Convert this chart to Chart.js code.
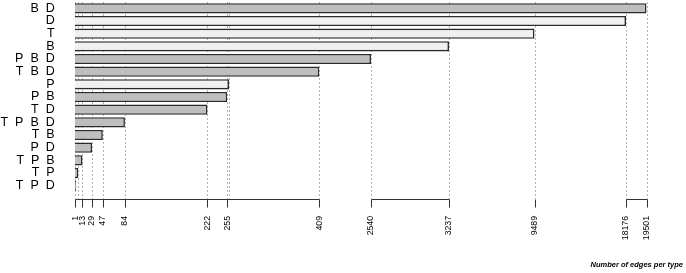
<!DOCTYPE html>
<html>
<head>
<meta charset="utf-8">
<script src="https://cdn.jsdelivr.net/npm/chart.js@4"></script>
<style>
  body { margin: 0; background: #fff; }
  canvas { display: block; }
</style>
</head>
<body>
<canvas id="edgeChart" width="686" height="273"></canvas>
<script>
// edge types, top to bottom
const categories = ['B  D', 'D', 'T', 'B', 'P  B  D', 'T  B  D', 'P', 'P  B', 'T  D',
  'T  P  B  D', 'T  B', 'P  D', 'T  P  B', 'T  P', 'T  P  D'];
const edgeCounts = [19501, 18176, 9489, 3237, 2540, 409, 258, 255, 222, 84, 47, 29, 13, 6, 1];
const tickValues = [1, 13, 29, 47, 84, 222, 255, 409, 2540, 3237, 9489, 18176, 19501];

// broken axis: value -> pixel offset from the left of the plot
const breaks = [[0, 0], [409, 244.6], [2540, 296.3], [3237, 374.3], [9489, 459.8], [18176, 551.3], [19501, 571.8]];
const axisPieces = [[1, 409], [2540, 3237], [9489, 9489], [18176, 19501]];

const FONT = "'Liberation Sans', Arial, sans-serif";

function breakOffset(v) {
  for (let i = 1; i < breaks.length; i++) {
    const [v0, p0] = breaks[i - 1];
    const [v1, p1] = breaks[i];
    if (v <= v1 || i === breaks.length - 1) {
      return p0 + (v - v0) * (p1 - p0) / (v1 - v0);
    }
  }
  return 0;
}

class BrokenScale extends Chart.LinearScale {
  getPixelForValue(value) {
    return this.left + breakOffset(value);
  }
  getValueForPixel(pixel) {
    const off = pixel - this.left;
    for (let i = 1; i < breaks.length; i++) {
      const [v0, p0] = breaks[i - 1];
      const [v1, p1] = breaks[i];
      if (off <= p1 || i === breaks.length - 1) {
        return v0 + (off - p0) * (v1 - v0) / (p1 - p0);
      }
    }
    return 0;
  }
}
BrokenScale.id = 'broken';
BrokenScale.defaults = Chart.LinearScale.defaults;
Chart.register(BrokenScale);

const axisPlugin = {
  id: 'brokenAxis',
  beforeDatasetsDraw(chart) {
    const { ctx, chartArea, scales: { x } } = chart;
    ctx.save();
    ctx.strokeStyle = '#b3b3b3';
    ctx.lineWidth = 1;
    ctx.setLineDash([2, 2]);
    edgeCounts.forEach(v => {
      const px = Math.round(x.getPixelForValue(v)) + 0.5;
      ctx.beginPath();
      ctx.moveTo(px, chartArea.top);
      ctx.lineTo(px, chartArea.bottom + 7);
      ctx.stroke();
    });
    ctx.restore();
  },
  afterDraw(chart) {
    const { ctx, chartArea, scales: { x } } = chart;
    const y = Math.round(chartArea.bottom + 7) + 0.5;
    ctx.save();
    ctx.strokeStyle = '#333';
    ctx.lineWidth = 1;
    axisPieces.forEach(([a, b]) => {
      ctx.beginPath();
      ctx.moveTo(Math.round(x.getPixelForValue(a)) + 0.5, y);
      ctx.lineTo(Math.round(x.getPixelForValue(b)) + 0.5, y);
      ctx.stroke();
    });
    tickValues.forEach(v => {
      const px = Math.round(x.getPixelForValue(v)) + 0.5;
      ctx.beginPath();
      ctx.moveTo(px, y);
      ctx.lineTo(px, y + 8);
      ctx.stroke();
    });
    ctx.restore();
  }
};

new Chart(document.getElementById('edgeChart'), {
  type: 'bar',
  data: {
    labels: categories,
    datasets: [{
      data: edgeCounts,
      backgroundColor: categories.map(c => c.length === 1 ? '#f0f0f0' : '#bebebe'),
      borderColor: '#2b2b2b',
      borderWidth: 1.6,
      barPercentage: 0.8,
      categoryPercentage: 1,
      minBarLength: 1.5
    }]
  },
  options: {
    indexAxis: 'y',
    responsive: false,
    animation: false,
    layout: { padding: { top: 2, right: 3, bottom: 0, left: 0 } },
    plugins: {
      legend: { display: false },
      tooltip: { enabled: false }
    },
    scales: {
      x: {
        type: 'broken',
        min: 0,
        max: 19501,
        afterBuildTicks: s => { s.ticks = tickValues.map(v => ({ value: v })); },
        afterFit: s => { s.height = 81; s.paddingLeft = 0; s.paddingRight = 0; },
        grid: { display: false, drawTicks: false },
        border: { display: false },
        ticks: {
          autoSkip: false,
          minRotation: 90,
          maxRotation: 90,
          padding: 24,
          color: '#000',
          font: { family: FONT, size: 8.7 },
          callback: v => String(v)
        },
        title: {
          display: true,
          text: 'Number of edges per type',
          align: 'end',
          color: '#000',
          padding: { top: 0, bottom: 3.5 },
          font: { family: FONT, size: 7.5, style: 'italic', weight: 'bold' }
        }
      },
      y: {
        afterFit: s => { s.width = 74.7; s.paddingTop = 0; s.paddingBottom = 0; },
        grid: { display: false, drawTicks: false },
        border: { display: false },
        ticks: {
          autoSkip: false,
          padding: 20,
          color: '#000',
          font: { family: FONT, size: 12.5 }
        }
      }
    }
  },
  plugins: [axisPlugin]
});
</script>
</body>
</html>
